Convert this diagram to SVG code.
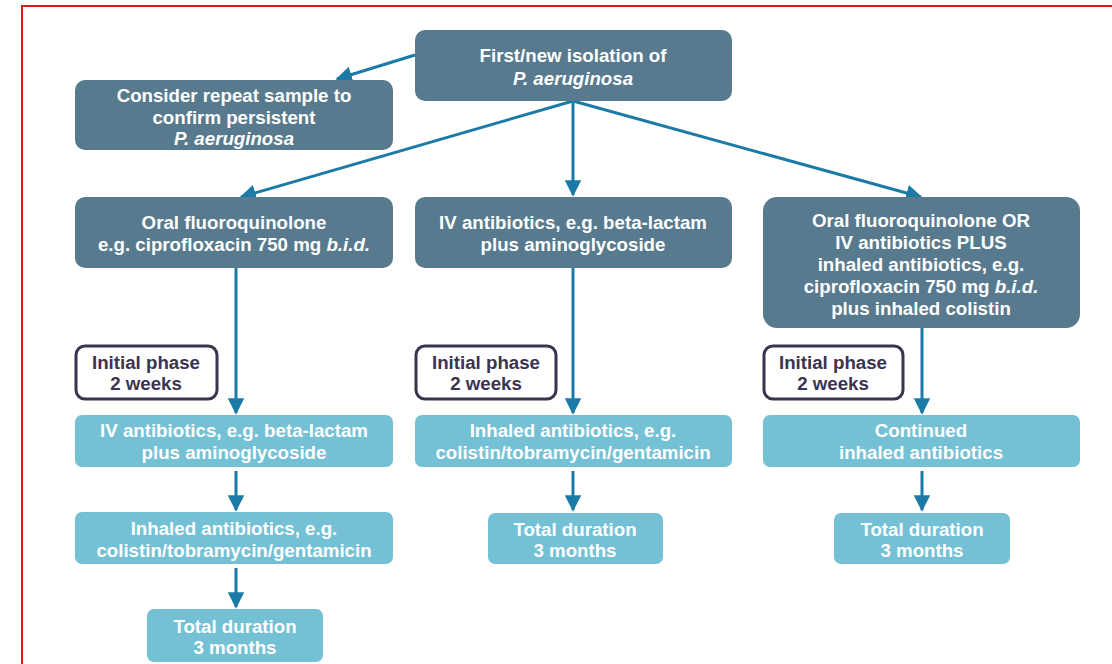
<svg xmlns="http://www.w3.org/2000/svg" width="1112" height="664" viewBox="0 0 1112 664">
<style>
.dk{fill:#587a8e}
.lt{fill:#74c1d5}
.ph{fill:#ffffff;stroke:#3b3350;stroke-width:3}
text{font-family:"Liberation Sans",Arial,sans-serif;font-size:18.7px;font-weight:bold;text-anchor:middle}
.w{fill:#ffffff}
.p{fill:#3b3350}
.i{font-style:italic}
.c{stroke:#1b7ba6;stroke-width:3;fill:none}
</style>
<defs>
<marker id="ah" viewBox="0 0 10 10" refX="9" refY="5" markerWidth="5.5" markerHeight="5.5" orient="auto" markerUnits="strokeWidth">
<path d="M0,0 L10,5 L0,10 Z" fill="#1b7ba6"/>
</marker>
</defs>
<rect x="22" y="6" width="1100" height="700" fill="none" stroke="#e0141b" stroke-width="2"/>
<g id="connectors">
<line class="c" x1="415" y1="55" x2="337" y2="79" marker-end="url(#ah)"/>
<line class="c" x1="573" y1="101" x2="241" y2="197" marker-end="url(#ah)"/>
<line class="c" x1="573" y1="101" x2="573" y2="195" marker-end="url(#ah)"/>
<line class="c" x1="573" y1="101" x2="921" y2="197" marker-end="url(#ah)"/>
<line class="c" x1="236" y1="268" x2="236" y2="413" marker-end="url(#ah)"/>
<line class="c" x1="573" y1="268" x2="573" y2="413" marker-end="url(#ah)"/>
<line class="c" x1="922" y1="328" x2="922" y2="413" marker-end="url(#ah)"/>
<line class="c" x1="236" y1="471" x2="236" y2="510" marker-end="url(#ah)"/>
<line class="c" x1="236" y1="568" x2="236" y2="607" marker-end="url(#ah)"/>
<line class="c" x1="573" y1="471" x2="573" y2="510" marker-end="url(#ah)"/>
<line class="c" x1="922" y1="471" x2="922" y2="510" marker-end="url(#ah)"/>
</g>
<g id="n-first">
<rect class="dk" x="415" y="30" width="317" height="71" rx="10"/>
<text class="w" x="573" y="62">First/new isolation of</text>
<text class="w i" x="573" y="85">P. aeruginosa</text>
</g>
<g id="n-repeat">
<rect class="dk" x="75" y="80" width="318" height="70" rx="10"/>
<text class="w" x="234" y="102">Consider repeat sample to</text>
<text class="w" x="234" y="124">confirm persistent</text>
<text class="w i" x="234" y="145">P. aeruginosa</text>
</g>
<g id="n-oral">
<rect class="dk" x="75" y="197" width="318" height="71" rx="10"/>
<text class="w" x="234" y="229">Oral fluoroquinolone</text>
<text class="w" x="234" y="251">e.g. ciprofloxacin 750 mg <tspan class="i">b.i.d.</tspan></text>
</g>
<g id="n-iv">
<rect class="dk" x="415" y="197" width="317" height="71" rx="10"/>
<text class="w" x="573" y="229">IV antibiotics, e.g. beta-lactam</text>
<text class="w" x="573" y="251">plus aminoglycoside</text>
</g>
<g id="n-combo">
<rect class="dk" x="763" y="197" width="317" height="131" rx="14"/>
<text class="w" x="921" y="227">Oral fluoroquinolone OR</text>
<text class="w" x="921" y="249">IV antibiotics PLUS</text>
<text class="w" x="921" y="271">inhaled antibiotics, e.g.</text>
<text class="w" x="921" y="293">ciprofloxacin 750 mg <tspan class="i">b.i.d.</tspan></text>
<text class="w" x="921" y="315">plus inhaled colistin</text>
</g>
<g id="n-phase1">
<rect class="ph" x="76" y="346" width="141" height="53" rx="9"/>
<text class="p" x="146" y="369">Initial phase</text>
<text class="p" x="146" y="390">2 weeks</text>
</g>
<g id="n-phase2">
<rect class="ph" x="416" y="346" width="140" height="53" rx="9"/>
<text class="p" x="486" y="369">Initial phase</text>
<text class="p" x="486" y="390">2 weeks</text>
</g>
<g id="n-phase3">
<rect class="ph" x="764" y="346" width="139" height="53" rx="9"/>
<text class="p" x="833" y="369">Initial phase</text>
<text class="p" x="833" y="390">2 weeks</text>
</g>
<g id="n-iv2">
<rect class="lt" x="75" y="415" width="318" height="52" rx="7"/>
<text class="w" x="234" y="437">IV antibiotics, e.g. beta-lactam</text>
<text class="w" x="234" y="459">plus aminoglycoside</text>
</g>
<g id="n-inh1">
<rect class="lt" x="75" y="512" width="318" height="52" rx="7"/>
<text class="w" x="234" y="535">Inhaled antibiotics, e.g.</text>
<text class="w" x="234" y="557">colistin/tobramycin/gentamicin</text>
</g>
<g id="n-total1">
<rect class="lt" x="147" y="609" width="176" height="53" rx="7"/>
<text class="w" x="235" y="633">Total duration</text>
<text class="w" x="235" y="654">3 months</text>
</g>
<g id="n-inh2">
<rect class="lt" x="415" y="415" width="317" height="52" rx="7"/>
<text class="w" x="573" y="437">Inhaled antibiotics, e.g.</text>
<text class="w" x="573" y="459">colistin/tobramycin/gentamicin</text>
</g>
<g id="n-total2">
<rect class="lt" x="488" y="513" width="175" height="51" rx="7"/>
<text class="w" x="575" y="536">Total duration</text>
<text class="w" x="575" y="557">3 months</text>
</g>
<g id="n-cont">
<rect class="lt" x="763" y="415" width="317" height="52" rx="7"/>
<text class="w" x="921" y="437">Continued</text>
<text class="w" x="921" y="459">inhaled antibiotics</text>
</g>
<g id="n-total3">
<rect class="lt" x="834" y="513" width="176" height="51" rx="7"/>
<text class="w" x="922" y="536">Total duration</text>
<text class="w" x="922" y="557">3 months</text>
</g>
</svg>
